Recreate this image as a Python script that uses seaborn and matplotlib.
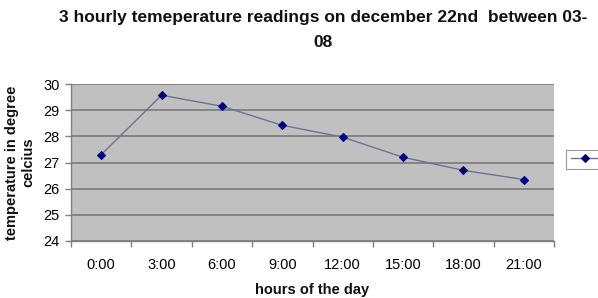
import matplotlib
matplotlib.use("Agg")
import matplotlib.pyplot as plt
import seaborn as sns
import pandas as pd
import numpy as np

hours = ["0:00", "3:00", "6:00", "9:00", "12:00", "15:00", "18:00", "21:00"]
temps = [27.3, 29.57, 29.15, 28.42, 27.97, 27.2, 26.7, 26.35]
yticks = [24, 25, 26, 27, 28, 29, 30]

sns.set_theme(style="white")
plt.rcParams['font.family'] = ['Liberation Sans', 'DejaVu Sans']

df = pd.DataFrame({"hour": hours, "temp": temps})

fig = plt.figure(figsize=(5.98, 2.98), dpi=100)
ax = fig.add_axes([71/598, 1-241/298, (554-71)/598, (241-84)/298])
ax.set_facecolor("#c0c0c0")

sns.lineplot(data=df, x="hour", y="temp", ax=ax, color="#6f7193", linewidth=1.0,
             marker="D", markersize=4, markerfacecolor="#000080", markeredgecolor="#000080",
             label=" ", sort=False)

ax.set_xlim(-0.5, len(hours) - 0.5)
ax.set_ylim(24, 30)
ax.set_yticks(yticks)
ax.set_yticklabels([str(v) for v in yticks])
ax.set_xticks(range(len(hours)))
ax.set_xticklabels(hours)
ax.set_xticks(np.arange(-0.5, len(hours)), minor=True)
ax.tick_params(axis="x", which="major", length=0, pad=12, labelsize=10.5, colors="#000000")
ax.tick_params(axis="x", which="minor", length=4, direction="out", color="#808080", width=1, bottom=True)
ax.tick_params(axis="y", which="major", length=4, direction="out", color="#808080", width=1, left=True, labelsize=10.5, pad=4)
for lbl in ax.get_xticklabels() + ax.get_yticklabels():
    lbl.set_color("#000000")

ax.grid(axis="y", color="#7a7a7a", linewidth=1.2)
ax.set_axisbelow(True)
for s in ["top", "right"]:
    ax.spines[s].set_visible(False)
for s in ["left", "bottom"]:
    ax.spines[s].set_visible(True)
    ax.spines[s].set_color("#808080")
    ax.spines[s].set_linewidth(1)

ax.set_xlabel("hours of the day", fontsize=10.5, fontweight="bold", labelpad=8, color="#111111")
ax.set_ylabel("temperature in degree\ncelcius", fontsize=10.5, fontweight="bold", labelpad=6, color="#111111")

leg = ax.legend(loc="center left", bbox_to_anchor=(1.025, 0.52), borderaxespad=0, frameon=True, fancybox=False,
                edgecolor="#808080", handlelength=2.6, borderpad=0.4, handletextpad=0.4, fontsize=8)
leg.get_frame().set_linewidth(0.8)

fig.text(323/598, 1-10/298, "3 hourly temeperature readings on december 22nd  between 03-\n08",
         ha="center", va="top", fontsize=12.5, fontweight="bold", linespacing=1.8, color="#111111")

fig.savefig("out.png", dpi=100)
